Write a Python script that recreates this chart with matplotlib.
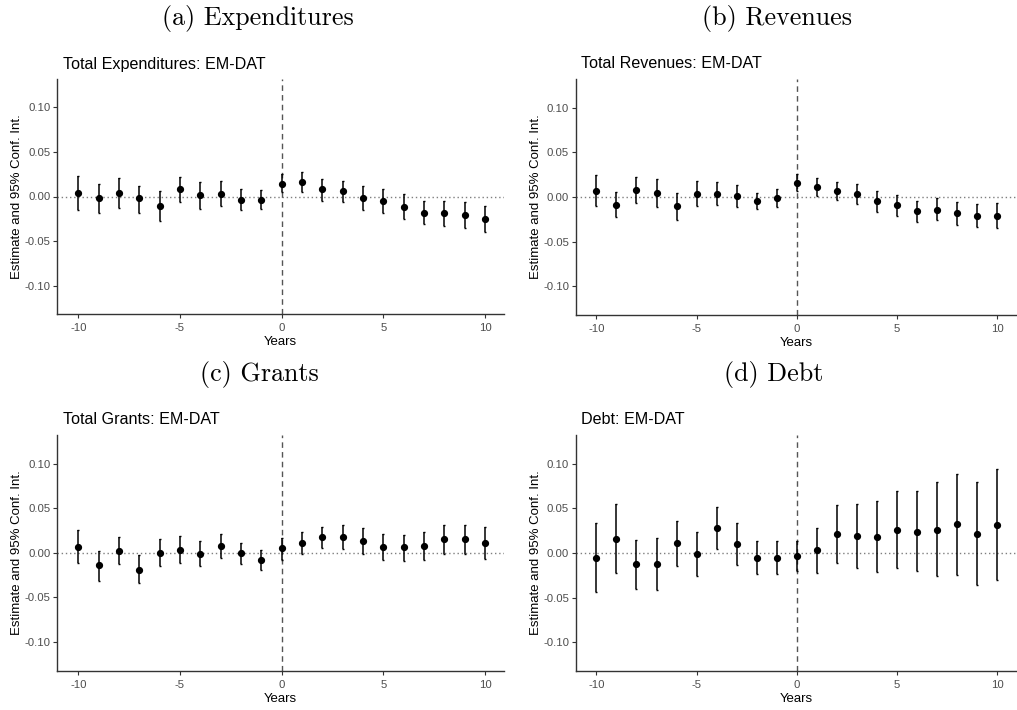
import matplotlib.pyplot as plt
import numpy as np

plt.rcParams['font.family'] = ['Liberation Sans', 'DejaVu Sans']
plt.rcParams['axes.unicode_minus'] = False

years = list(range(-10, 11))

# estimates and 95% bounds
exp_est = [0.0037, -0.0022, 0.0037, -0.0022, -0.0105, 0.0079, 0.0015, 0.0026, -0.0034, -0.0034,
           0.0139, 0.0160, 0.0079, 0.0060, -0.0015, -0.0045, -0.0116, -0.0187, -0.0187, -0.0210, -0.0258]
exp_hi = [0.0232, 0.0139, 0.0213, 0.0120, 0.0060, 0.0220, 0.0160, 0.0170, 0.0079, 0.0071,
          0.0250, 0.0270, 0.0195, 0.0170, 0.0120, 0.0079, 0.0026, -0.0056, -0.0056, -0.0067, -0.0109]
exp_lo = [-0.0150, -0.0180, -0.0127, -0.0180, -0.0280, -0.0067, -0.0139, -0.0109, -0.0150, -0.0139,
          0.0045, 0.0056, -0.0045, -0.0067, -0.0150, -0.0180, -0.0250, -0.0310, -0.0333, -0.0352, -0.0404]

rev_est = [0.0067, -0.0086, 0.0079, 0.0049, -0.0105, 0.0037, 0.0037, 0.0015, -0.0045, -0.0011,
           0.0160, 0.0109, 0.0067, 0.0037, -0.0045, -0.0086, -0.0157, -0.0146, -0.0176, -0.0210, -0.0210]
rev_hi = [0.0250, 0.0060, 0.0220, 0.0206, 0.0049, 0.0180, 0.0170, 0.0130, 0.0049, 0.0090,
          0.0260, 0.0213, 0.0170, 0.0150, 0.0071, 0.0026, -0.0045, -0.0015, -0.0056, -0.0075, -0.0067]
rev_lo = [-0.0097, -0.0220, -0.0067, -0.0109, -0.0260, -0.0097, -0.0086, -0.0109, -0.0139, -0.0116,
          0.0067, 0.0007, -0.0034, -0.0075, -0.0169, -0.0210, -0.0280, -0.0260, -0.0310, -0.0340, -0.0350]

gra_est = [0.0067, -0.0135, 0.0019, -0.0187, 0.0000, 0.0037, -0.0011, 0.0079, 0.0000, -0.0075,
           0.0049, 0.0109, 0.0180, 0.0180, 0.0131, 0.0067, 0.0060, 0.0079, 0.0150, 0.0150, 0.0109]
gra_hi = [0.0260, 0.0026, 0.0172, -0.0022, 0.0150, 0.0184, 0.0131, 0.0213, 0.0112, 0.0037,
          0.0169, 0.0232, 0.0292, 0.0315, 0.0273, 0.0213, 0.0202, 0.0232, 0.0315, 0.0315, 0.0285]
gra_lo = [-0.0110, -0.0310, -0.0127, -0.0340, -0.0150, -0.0116, -0.0150, -0.0056, -0.0127, -0.0187,
          -0.0075, -0.0015, 0.0056, 0.0045, -0.0015, -0.0075, -0.0086, -0.0075, -0.0015, -0.0015, -0.0067]

debt_est = [-0.0056, 0.0161, -0.0127, -0.0127, 0.0109, -0.0011, 0.0281, 0.0101, -0.0056, -0.0056,
            -0.0034, 0.0030, 0.0210, 0.0191, 0.0180, 0.0262, 0.0240, 0.0262, 0.0322, 0.0210, 0.0311]
debt_hi = [0.0340, 0.0547, 0.0150, 0.0172, 0.0363, 0.0232, 0.0520, 0.0333, 0.0131, 0.0131,
           0.0131, 0.0285, 0.0532, 0.0543, 0.0577, 0.0693, 0.0693, 0.0790, 0.0880, 0.0790, 0.0936]
debt_lo = [-0.0438, -0.0221, -0.0400, -0.0412, -0.0150, -0.0258, 0.0049, -0.0139, -0.0240, -0.0240,
           -0.0199, -0.0221, -0.0109, -0.0169, -0.0210, -0.0169, -0.0199, -0.0258, -0.0251, -0.0360, -0.0300]

headers = ['(a) Expenditures', '(b) Revenues', '(c) Grants', '(d) Debt']
titles = ['Total Expenditures: EM-DAT', 'Total Revenues: EM-DAT', 'Total Grants: EM-DAT', 'Debt: EM-DAT']
yticks = [-0.10, -0.05, 0.00, 0.05, 0.10]
xticks = [-10, -5, 0, 5, 10]

panels = [(exp_est, exp_lo, exp_hi), (rev_est, rev_lo, rev_hi),
          (gra_est, gra_lo, gra_hi), (debt_est, debt_lo, debt_hi)]

W, H = 1017, 710
fig = plt.figure(figsize=(W / 100, H / 100), dpi=100)

# pixel boxes: left, top, right, bottom
boxes = [(57.3, 79, 504, 314), (575.7, 79, 1016, 315),
         (57.3, 435, 504, 670.7), (575.7, 435, 1016, 671)]
header_pos = [(258, 18), (777, 18), (259, 374), (774, 374)]

for i, (est, lo, hi) in enumerate(panels):
    l, t, r, b = boxes[i]
    ax = fig.add_axes([l / W, 1 - b / H, (r - l) / W, (b - t) / H])
    est = np.array(est)
    err = [est - np.array(lo), np.array(hi) - est]
    ax.axhline(0, color='#7f7f7f', lw=1.0, ls=(0, (1, 2)), zorder=1)
    ax.axvline(0, color='#555555', lw=1.0, ls=(0, (4, 3)), zorder=1)
    ax.errorbar(years, est, yerr=err, fmt='o', color='black', ms=4.2,
                elinewidth=1.1, capsize=1, capthick=1.0, zorder=3)
    ax.set_xlim(-11.03, 10.93)
    ax.set_ylim(-0.132, 0.132)
    ax.set_xticks(xticks)
    ax.set_xticklabels([str(x) for x in xticks])
    ax.set_yticks(yticks)
    ax.set_yticklabels(['%.2f' % y for y in yticks])
    for s in ['top', 'right']:
        ax.spines[s].set_visible(False)
    for s in ['left', 'bottom']:
        ax.spines[s].set_color('#333333')
        ax.spines[s].set_linewidth(1.0)
    ax.tick_params(length=3, width=0.8, color='#333333', labelcolor='#4d4d4d',
                   labelsize=8.2)
    ax.tick_params(axis='x', pad=3.5)
    ax.tick_params(axis='y', pad=1.8)
    ax.set_xlabel('Years', fontsize=9.5, labelpad=2.0)
    ax.set_ylabel('Estimate and 95% Conf. Int.', fontsize=9.5, labelpad=1.0)

    # panel title, just right of the y axis line
    fig.text((l + 5.5) / W, 1 - (t - 15) / H, titles[i], fontsize=11.6,
             va='center', ha='left')
    hx, hy = header_pos[i]
    fig.text(hx / W, 1 - hy / H, headers[i], family='cmr10', fontsize=18.7,
             ha='center', va='center')

fig.savefig('out.png', dpi=100)
